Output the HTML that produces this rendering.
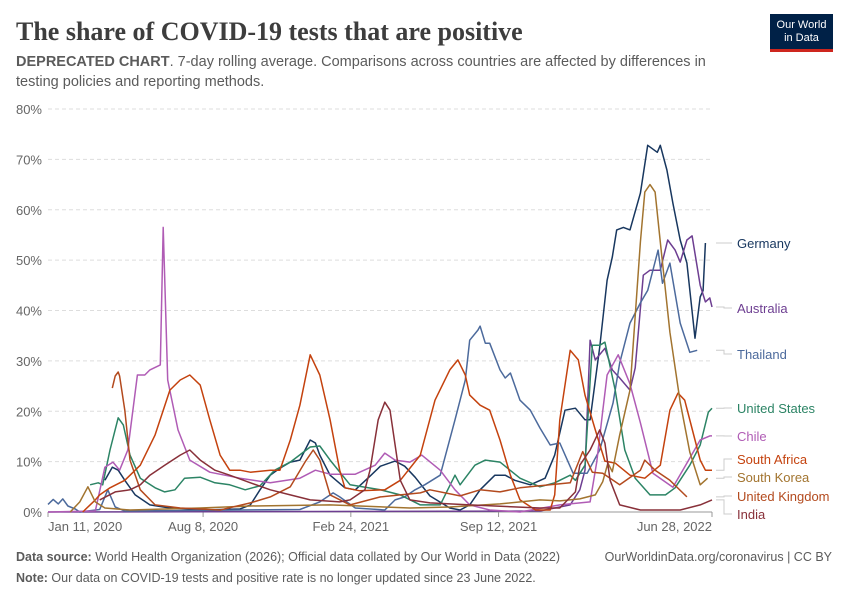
<!DOCTYPE html>
<html><head><meta charset="utf-8">
<style>
body{margin:0;background:#fff;font-family:"Liberation Sans",sans-serif;}
#wrap{position:relative;width:850px;height:600px;overflow:hidden;}
.title{position:absolute;left:16px;top:17px;font-family:"Liberation Serif",serif;font-size:26px;font-weight:bold;color:#3d3d3d;}
.sub{position:absolute;left:16px;top:52px;width:720px;font-size:14.5px;line-height:20px;color:#5b5b5b;}
.logo{position:absolute;left:770px;top:14px;width:63px;height:38px;background:#002147;color:#fff;font-size:11px;line-height:13px;text-align:center;padding-top:5px;box-sizing:border-box;border-bottom:3px solid #ce261e;}
.foot{position:absolute;left:16px;font-size:12.5px;color:#5b5b5b;}
</style></head>
<body><div id="wrap">
<div class="title">The share of COVID-19 tests that are positive</div>
<div class="sub"><b>DEPRECATED CHART</b>. 7-day rolling average. Comparisons across countries are affected by differences in testing policies and reporting methods.</div>
<div class="logo">Our World<br>in Data</div>
<svg id="chart" width="850" height="600" style="position:absolute;left:0;top:0"></svg>
<div class="foot" style="top:550px"><b>Data source:</b> World Health Organization (2026); Official data collated by Our World in Data (2022)</div>
<div class="foot" style="top:550px;left:auto;right:18px">OurWorldinData.org/coronavirus | CC BY</div>
<div class="foot" style="top:571px"><b>Note:</b> Our data on COVID-19 tests and positive rate is no longer updated since 23 June 2022.</div>
</div>
<script>
// x = days since 2020-01-11, y = percent
const yTicks=[0,10,20,30,40,50,60,70,80];
const xTickDays=[0,210,410,610,899];
const xTickLabels=["Jan 11, 2020","Aug 8, 2020","Feb 24, 2021","Sep 12, 2021","Jun 28, 2022"];
const names=["Germany","Australia","Thailand","United States","Chile","South Africa","South Korea","United Kingdom","India"];
const colors=["#18375f","#6d3e91","#4c6a9c","#2c8465","#b05cb5","#c4420e","#a2742f","#b34a1e","#883039"];
const labelY=[243,308,354,408,436,459,477,496,514];
const germanyX=[77,87,95,104,118,138,165,206,260,274,287,301,314,328,341,355,362,368,382,402,416,436,450,470,483,497,517,544,558,571,585,605,619,632,653,673,686,700,714,727,734,747,757,764,770,779,788,802,812,825,829,838,846,856,865,876,883,887,890];
const germanyY=[6.3,8.9,8.3,6.3,3.4,1.4,0.8,0.4,0.6,1.4,4.4,7.3,8.7,9.9,10.3,14.3,13.7,11.3,7.3,4.8,4.4,7.1,9.1,10.1,9.1,6.9,3.2,0.8,0.4,1.4,4.4,7.3,7.3,6.3,5.4,6.7,11.3,20.2,20.6,18.3,18.3,32.7,46,50.6,56,56.5,56,63.3,72.8,71.4,72.8,67.9,61.3,54,49.4,34.5,42.7,44,53.4];
const australiaX=[0,666,707,720,727,734,741,754,764,774,788,795,806,815,829,839,849,856,865,872,883,890,896,899];
const australiaY=[0,0.2,1.4,4.4,8.3,34.1,30.2,32.5,28.2,26.6,24.2,28.6,47,48,48,54,52,49.6,54,54.8,45,41.7,42.5,40.7];
const thailandX=[0,7,14,20,27,37,43,70,81,91,104,341,368,386,395,416,456,470,483,497,510,531,551,565,571,582,585,592,598,612,619,626,639,653,666,680,693,711,730,747,765,774,788,802,812,826,832,842,856,869,879];
const thailandY=[1.5,2.5,1.6,2.6,1.2,0.6,0,0.5,4.4,1,0.2,0.5,2,3.8,3,0.8,0.4,2.4,3,4.4,5.4,7.3,18.3,26.2,34.1,36.1,36.9,33.5,33.5,28.2,26.6,27.6,22.2,20.2,16.7,13.3,13.7,7.7,7.7,12.3,21.6,29.6,37.5,41.5,44,52,45.4,49.4,37.5,31.7,32.1];
const usX=[57,68,74,84,95,102,111,125,145,158,172,185,206,226,246,267,287,307,328,355,368,382,409,450,477,504,531,551,558,578,592,612,639,666,686,707,714,727,737,747,754,768,781,795,815,836,849,869,883,894,899];
const usY=[5.4,5.8,5.4,12.3,18.7,17.3,11.3,6.7,4.8,4,4.4,6.7,6.9,5.8,5.4,4.4,5.2,8.3,9.9,12.9,13.1,10.3,5.4,4.4,3.4,1.4,1.4,7.3,5.4,9.3,10.3,9.9,6.7,5,5.8,7.3,6.3,9.3,33.1,33.1,33.7,24.2,12.3,6.7,3.4,3.4,4.8,9.3,13.3,19.8,20.6];
const chileX=[0,64,77,88,97,108,121,131,138,152,156,162,176,192,219,260,301,341,362,382,416,443,456,470,490,506,531,551,571,598,639,693,734,743,751,757,772,788,802,819,846,865,883,896,899];
const chileY=[0,0.2,8.9,9.9,8.3,12.3,27.2,27.2,28.2,29.2,56.5,26.2,16.3,10.3,7.9,6.7,5.8,6.7,8.3,7.5,7.5,9.3,11.7,10.3,9.9,11.3,8.3,4.4,1.4,0.4,0,1.4,2,10,20,27.2,31.2,25.4,17.7,7.7,4.9,9.7,14.3,15.1,15.1];
const safricaX=[47,64,70,84,104,125,145,165,179,192,206,219,233,246,260,274,301,314,328,341,355,368,382,395,402,422,456,477,504,524,544,555,565,571,585,598,612,626,639,660,680,686,693,707,718,727,741,754,768,788,808,829,842,853,862,876,883,890,899];
const safricaY=[0,2.4,3.4,4.8,6.3,9.3,15.3,24.2,26.2,27.2,25.2,18.3,11.3,8.3,8.3,7.9,8.3,8.3,14.3,21.2,31.2,27.2,18.3,8.3,4.8,4.2,4.4,6.3,11.3,22.2,28.2,30.2,27.2,23.2,21.2,20.2,14.3,7.3,2.4,0.4,0.4,3.4,18.3,32.1,30.2,23.2,16.3,10.1,9.7,7.3,6.7,9.3,20.2,23.6,22.2,14.3,10.3,8.3,8.3];
const skoreaX=[30,43,54,64,77,111,206,274,382,422,490,544,612,666,693,720,741,751,758,764,774,788,802,808,815,822,829,842,856,869,883,893];
const skoreaY=[0,2,5,2,0.8,0.4,0.8,1.2,1.4,1.2,0.8,1,1.6,2.4,2.2,2.6,3.4,6,9.7,8,15.3,24.2,53.6,63.5,65,63.5,53.6,35.7,21.8,11.9,5.4,6.7];
const ukX=[87,91,95,97,104,111,125,145,179,233,274,301,328,348,359,368,382,409,450,477,504,517,558,585,612,639,666,707,724,737,751,774,802,808,822,842,865];
const ukY=[24.6,27,27.8,27,20.2,10.3,4.4,1.4,0.8,0.4,1.8,3,5,9.9,12.3,10.3,3.4,1.4,3,3.4,3.8,4.4,3.2,4.4,4,4.8,5.2,5.8,12,7.9,7.7,5.4,8.3,10.3,8.3,6.3,3];
const indiaX=[70,91,111,125,138,158,179,192,206,226,246,274,301,328,355,395,409,429,436,447,456,463,470,477,490,517,571,666,693,714,720,734,747,754,761,774,802,856,883,899];
const indiaY=[2.4,4,4.4,5.4,7.3,9.3,11.3,12.3,10.3,8.3,7.3,5.8,4.4,3.4,2.4,2,2.4,4.4,8.3,18.3,21.8,20.2,13.3,6.3,2.4,1.8,1.4,0.8,0.8,4,9.3,12.3,16.3,13.7,6.3,1.4,0.4,0.4,1.4,2.4];
const seriesX=[germanyX,australiaX,thailandX,usX,chileX,safricaX,skoreaX,ukX,indiaX];
const seriesY=[germanyY,australiaY,thailandY,usY,chileY,safricaY,skoreaY,ukY,indiaY];

const X0=48,X1=712,Y0=512,Y1=109,DMAX=899,YMAX=80;
const sx=d=>X0+(X1-X0)*d/DMAX;
const sy=v=>Y0-(Y0-Y1)*v/YMAX;
const NS="http://www.w3.org/2000/svg";
const svg=document.getElementById('chart');
function mk(tag,attrs,parent){const e=document.createElementNS(NS,tag);for(const k in attrs)e.setAttribute(k,attrs[k]);(parent||svg).appendChild(e);return e;}
yTicks.forEach(t=>{
  if(t>0){const g=mk('line',{x1:X0,x2:X1,y1:sy(t),y2:sy(t),stroke:'#dddddd','stroke-dasharray':'4,3'});
  
  }
  const l=mk('text',{x:42,y:sy(t)+5,'text-anchor':'end','font-size':13,fill:'#666','font-family':'Liberation Sans, sans-serif'});
  l.textContent=t+'%';
  
  
});
const ax=mk('line',{x1:X0,x2:X1,y1:Y0,y2:Y0,stroke:'#999'});


xTickDays.forEach((d,i)=>{
  mk('line',{x1:sx(d),x2:sx(d),y1:Y0,y2:Y0+5,stroke:'#999'});
  const anchor=i===0?'start':(i===xTickDays.length-1?'end':'middle');
  const l=mk('text',{x:sx(d),y:Y0+19,'text-anchor':anchor,'font-size':13,fill:'#666','font-family':'Liberation Sans, sans-serif'});
  l.textContent=xTickLabels[i];
  
  
});
seriesX.forEach((xs,i)=>{
  const d=xs.map((x,j)=>(j?'L':'M')+sx(x).toFixed(1)+','+sy(seriesY[i][j]).toFixed(1)).join(' ');
  const p=mk('path',{d:d,fill:'none',stroke:colors[i],'stroke-width':1.5,'stroke-linejoin':'round'});
  
  
  const lastY=sy(seriesY[i][seriesY[i].length-1]);
  mk('path',{d:`M716,${lastY.toFixed(1)} L724,${lastY.toFixed(1)} L724,${labelY[i]} L732,${labelY[i]}`,fill:'none',stroke:'#ccc'});
  const t=mk('text',{x:737,y:labelY[i]+5,'font-size':13,fill:colors[i],'font-family':'Liberation Sans, sans-serif'});
  t.textContent=names[i];
  
  
});
</script>
</body></html>
